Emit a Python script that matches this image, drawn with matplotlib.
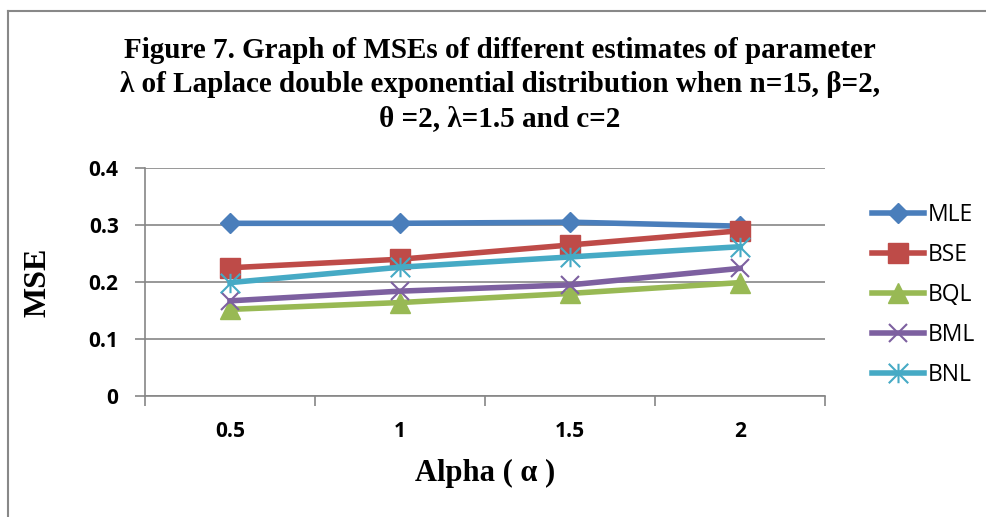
import numpy as np
import matplotlib.pyplot as plt
from matplotlib.path import Path
from matplotlib.lines import Line2D

# categories on the x axis
alpha = ['0.5', '1', '1.5', '2']

# MSE values
mle = [0.303, 0.303, 0.305, 0.298]
bse = [0.225, 0.240, 0.265, 0.290]
bql = [0.152, 0.164, 0.180, 0.199]
bml = [0.167, 0.184, 0.195, 0.224]
bnl = [0.199, 0.226, 0.244, 0.262]

names = ['MLE', 'BSE', 'BQL', 'BML', 'BNL']
colors = ['#4A7EBB', '#BE4B48', '#98B954', '#7D60A0', '#46AAC5']

# asterisk marker like excel (vertical bar + x)
star = Path([(0, -1), (0, 1), (-1, -1), (1, 1), (-1, 1), (1, -1)],
            [Path.MOVETO, Path.LINETO, Path.MOVETO, Path.LINETO, Path.MOVETO, Path.LINETO])

fig = plt.figure(figsize=(9.86, 5.17), dpi=100)
ax = fig.add_axes([0.147, 0.234, 0.69, 0.441])

x = np.arange(len(alpha))
lw = 4
ax.plot(x, mle, color=colors[0], lw=lw, marker='D', ms=10, label=names[0])
ax.plot(x, bse, color=colors[1], lw=lw, marker='s', ms=14, label=names[1])
ax.plot(x, bql, color=colors[2], lw=lw, marker='^', ms=14, label=names[2])
ax.plot(x, bml, color=colors[3], lw=lw, marker='x', ms=13, mew=1.5, label=names[3])
ax.plot(x, bnl, color=colors[4], lw=lw, marker=star, ms=14, mew=1.5, label=names[4])

ax.set_xlim(-0.5, len(alpha) - 0.5)
ax.set_ylim(0, 0.4)
ax.set_yticks([0, 0.1, 0.2, 0.3, 0.4])
ax.set_yticklabels(['0', '0.1', '0.2', '0.3', '0.4'])
ax.grid(axis='y', color='#868686', lw=1.2)
ax.set_axisbelow(True)

ax.set_xticks(np.arange(-0.5, len(alpha)), labels=[])
ax.set_xticks(x, labels=alpha, minor=True)
ax.tick_params(axis='x', which='major', length=7, width=1.2, color='#868686', direction='out')
ax.tick_params(axis='x', which='minor', length=0, pad=18)
ax.tick_params(axis='y', length=7, width=1.2, color='#868686', pad=12)

for lab in ax.get_xticklabels(minor=True) + ax.get_yticklabels():
    lab.set_fontfamily('Open Sans')
    lab.set_fontweight('bold')
    lab.set_fontsize(15)

for s in ['top', 'right']:
    ax.spines[s].set_visible(False)
for s in ['left', 'bottom']:
    ax.spines[s].set_color('#868686')
    ax.spines[s].set_linewidth(1.2)

ax.set_xlabel('Alpha ( α )', family='Liberation Serif', weight='bold', fontsize=22, labelpad=12)
ax.set_ylabel('MSE', family='Liberation Serif', weight='bold', fontsize=23, labelpad=26)

fig.text(0.507, 0.837,
         'Figure 7. Graph of MSEs of different estimates of parameter\n'
         'λ of Laplace double exponential distribution when n=15, β=2,\n'
         'θ =2, λ=1.5 and c=2',
         ha='center', va='center', family='Liberation Serif', weight='bold',
         fontsize=21, linespacing=1.33)

leg = fig.legend(loc='center left', bbox_to_anchor=(0.863, 0.43), frameon=False,
                 prop={'family': 'Open Sans', 'size': 16.5}, handlelength=2.3,
                 labelspacing=0.7, handletextpad=0.15)

# chart-area border
fig.add_artist(Line2D([0.008, 1], [0.979, 0.979], color='#888888', lw=1.5))
fig.add_artist(Line2D([0.008, 0.008], [0, 0.979], color='#888888', lw=1.5))

fig.savefig('out.png', dpi=100)
